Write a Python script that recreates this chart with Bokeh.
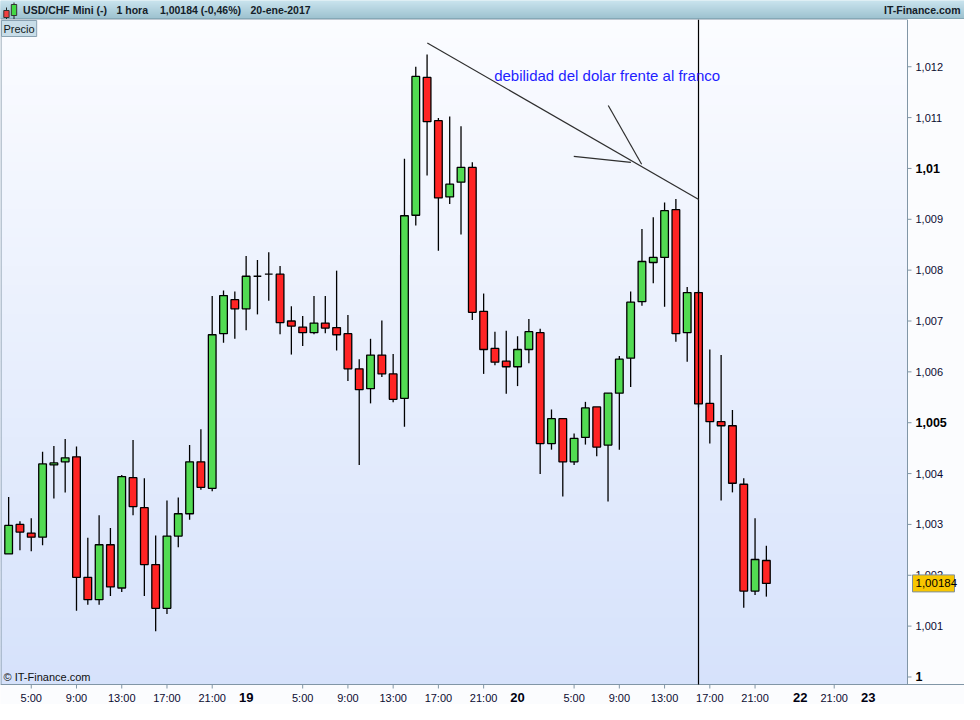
import numpy as np
from bokeh.plotting import figure
from bokeh.models import Range1d, Label, ColumnDataSource
from bokeh.layouts import column
from bokeh.embed import file_html
from bokeh.resources import INLINE
from bokeh.core.properties import value

FONT = "Liberation Sans"

# ---------------- data (hourly candles, USD/CHF) ----------------
opens = [
    1.00242, 1.00300, 1.00283, 1.00275, 1.00417, 1.00423, 1.00433, 1.00196, 1.00152, 1.00260,
    1.00175, 1.00392, 1.00333, 1.00221, 1.00135, 1.00277, 1.00321, 1.00423, 1.00371, 1.00675,
    1.00742, 1.00724, 1.00788, 1.00792, 1.00792, 1.00700, 1.00688, 1.00677, 1.00696, 1.00687,
    1.00675, 1.00606, 1.00567, 1.00633, 1.00596, 1.00548, 1.00908, 1.01179, 1.01094, 1.00944,
    1.00973, 1.01002, 1.00719, 1.00646, 1.00621, 1.00610, 1.00644, 1.00677, 1.00459, 1.00508,
    1.00423, 1.00471, 1.00531, 1.00456, 1.00558, 1.00627, 1.00738, 1.00815, 1.00825, 1.00919,
    1.00677, 1.00756, 1.00538, 1.00502, 1.00494, 1.00379, 1.00169, 1.00229]
highs = [
    1.00354, 1.00306, 1.00312, 1.00443, 1.00454, 1.00468, 1.00453, 1.00274, 1.00318, 1.00293,
    1.00397, 1.00466, 1.00391, 1.00278, 1.00347, 1.00353, 1.00456, 1.00487, 1.00749, 1.00760,
    1.00758, 1.00828, 1.00820, 1.00835, 1.00808, 1.00729, 1.00710, 1.00749, 1.00749, 1.00799,
    1.00712, 1.00625, 1.00665, 1.00701, 1.00635, 1.01019, 1.01200, 1.01224, 1.01099, 1.01102,
    1.01083, 1.01012, 1.00754, 1.00679, 1.00681, 1.00670, 1.00704, 1.00685, 1.00526, 1.00508,
    1.00479, 1.00541, 1.00531, 1.00558, 1.00631, 1.00758, 1.00881, 1.00904, 1.00933, 1.00940,
    1.00767, 1.00760, 1.00644, 1.00633, 1.00525, 1.00391, 1.00312, 1.00258]
lows = [
    1.00242, 1.00249, 1.00247, 1.00259, 1.00351, 1.00363, 1.00130, 1.00142, 1.00142, 1.00159,
    1.00167, 1.00318, 1.00159, 1.00090, 1.00124, 1.00255, 1.00309, 1.00368, 1.00365, 1.00657,
    1.00665, 1.00682, 1.00713, 1.00740, 1.00674, 1.00634, 1.00651, 1.00674, 1.00676, 1.00642,
    1.00582, 1.00417, 1.00538, 1.00590, 1.00540, 1.00492, 1.00888, 1.00986, 1.00838, 1.00930,
    1.00870, 1.00702, 1.00596, 1.00613, 1.00557, 1.00572, 1.00617, 1.00399, 1.00447, 1.00355,
    1.00417, 1.00457, 1.00434, 1.00345, 1.00447, 1.00570, 1.00730, 1.00774, 1.00728, 1.00659,
    1.00620, 1.00530, 1.00459, 1.00347, 1.00363, 1.00136, 1.00161, 1.00158]
closes = [
    1.00298, 1.00285, 1.00275, 1.00419, 1.00421, 1.00431, 1.00196, 1.00152, 1.00260, 1.00177,
    1.00394, 1.00335, 1.00221, 1.00135, 1.00277, 1.00321, 1.00423, 1.00373, 1.00673, 1.00750,
    1.00724, 1.00788, 1.00788, 1.00792, 1.00697, 1.00690, 1.00677, 1.00696, 1.00686, 1.00673,
    1.00606, 1.00565, 1.00633, 1.00596, 1.00546, 1.00907, 1.01181, 1.01092, 1.00942, 1.00969,
    1.01002, 1.00717, 1.00644, 1.00619, 1.00610, 1.00644, 1.00679, 1.00459, 1.00508, 1.00423,
    1.00469, 1.00529, 1.00452, 1.00558, 1.00625, 1.00737, 1.00817, 1.00825, 1.00917, 1.00675,
    1.00756, 1.00537, 1.00502, 1.00494, 1.00381, 1.00169, 1.00231, 1.00184]

# time axis (slot index = hour since 18-ene 3:00)
hour_ticks = [2, 6, 10, 14, 18, 26, 30, 34, 38, 42, 50, 54, 58, 62, 66, 73]
hour_labels = ["5:00", "9:00", "13:00", "17:00", "21:00",
               "5:00", "9:00", "13:00", "17:00", "21:00",
               "5:00", "9:00", "13:00", "17:00", "21:00", "21:00"]
day_ticks = [21, 45, 70, 76]
day_labels = ["19", "20", "22", "23"]

# price axis
price_ticks = [1.000, 1.001, 1.002, 1.003, 1.004, 1.005, 1.006,
               1.007, 1.008, 1.009, 1.010, 1.011, 1.012]
price_labels = ["1", "1,001", "1,002", "1,003", "1,004", "1,005", "1,006",
                "1,007", "1,008", "1,009", "1,01", "1,011", "1,012"]
bold_prices = [1.000, 1.005, 1.010]

last_price = 1.00184
last_price_text = "1,00184"
marker_slot = 61

# hand-drawn annotation (trend line + arrow strokes)
annot_x0 = [37.02, 49.97, 53.02]
annot_y0 = [1.012467, 1.010237, 1.011237]
annot_x1 = [61.02, 55.02, 55.97]
annot_y1 = [1.009390, 1.010121, 1.010083]
note_text = "debilidad del dolar frente al franco"
note_x, note_y = 42.93, 1.011833

header_parts = ["USD/CHF Mini (-)", "1 hora", "1,00184 (-0,46%)", "20-ene-2017"]
brand = "IT-Finance.com"

# ---------------- layout ----------------
W = 964
HDR_H = 19
MAIN_H = 685
FW, FH = 907, 665          # price panel inside the main figure
X0, X1 = -0.72, 79.48      # visible slot range of the price panel
Y0, Y1 = 0.999852, 1.012929
dx = (X1 - X0) / FW        # data units per pixel
dy = (Y1 - Y0) / FH
XE = X0 + W * dx           # canvas right edge (includes price-scale strip)
YE = Y1 - MAIN_H * dy      # canvas bottom edge (includes time-scale strip)

AX_COL = "#8196a6"
LBL_COL = "#0b0b30"


def mix(c1, c2, t):
    return "#%02x%02x%02x" % tuple(int(round(a + (b - a) * t)) for a, b in zip(c1, c2))


# ---------------- header bar ----------------
hdr = figure(width=W, height=HDR_H, x_range=Range1d(0, W), y_range=Range1d(HDR_H, 0),
             toolbar_location=None, output_backend="svg", min_border=0,
             x_axis_location=None, y_axis_location=None)
hdr.grid.visible = False
hdr.outline_line_color = None
rows = np.arange(HDR_H)
hcols = [mix((202, 228, 238), (156, 193, 207), r / (HDR_H - 1)) for r in rows]
hdr.quad(left=0, right=W, top=rows, bottom=rows + 1, fill_color=hcols, line_color=hcols)
hdr.segment(x0=[0], y0=[HDR_H - 0.5], x1=[W], y1=[HDR_H - 0.5], line_color="#6f8e9c", line_width=1)
hdr.segment(x0=[6, 13.5], y0=[7, 2], x1=[6, 13.5], y1=[18.5, 18.5], line_color="#222222", line_width=1)
hdr.quad(left=[3.3, 10.8], right=[8.6, 16.2], top=[10, 4], bottom=[17, 15],
         fill_color=["#f04040", "#44d844"], line_color="#333333", line_width=1)
hdr.text(x=[22.6, 116, 159.4, 250], y=[9.8] * 4, text=header_parts,
         text_font=value(FONT), text_font_style="bold", text_font_size="10.5px",
         text_baseline="middle", text_color="#142028")
hdr.text(x=[960], y=[9.8], text=[brand], text_font=value(FONT), text_font_style="bold",
         text_font_size="10.5px", text_baseline="middle", text_align="right", text_color="#142028")

# ---------------- main chart ----------------
p = figure(width=W, height=MAIN_H, x_range=Range1d(X0, XE), y_range=Range1d(YE, Y1),
           toolbar_location=None, output_backend="svg", min_border=0,
           x_axis_location=None, y_axis_location=None)
p.grid.visible = False
p.outline_line_color = None
p.background_fill_color = "#fbfcfe"
p.border_fill_color = "#fbfcfe"

# gradient background of the price panel
N = 70
ys = np.linspace(Y1, Y0, N + 1)
bcols = [mix((251, 252, 255), (214, 226, 251), i / (N - 1)) for i in range(N)]
p.quad(left=X0, right=X1, top=ys[:-1], bottom=ys[1:], fill_color=bcols, line_color=bcols,
       line_width=1, level="underlay")

# panel frame (also the axis lines)
p.segment(x0=[X0 + 0.5 * dx, X1, X0, X0], y0=[Y0, Y0, Y0, Y1],
          x1=[X0 + 0.5 * dx, X1, XE, X1], y1=[Y1, Y1, Y0, Y1],
          line_color=AX_COL, line_width=1)

# price scale: ticks + labels
p.segment(x0=[X1] * len(price_ticks), y0=price_ticks, x1=[X1 + 4 * dx] * len(price_ticks),
          y1=price_ticks, line_color=AX_COL, line_width=1)
norm_v = [v for v in price_ticks if v not in bold_prices]
norm_l = [l for v, l in zip(price_ticks, price_labels) if v not in bold_prices]
bold_v = [v for v in price_ticks if v in bold_prices]
bold_l = [l for v, l in zip(price_ticks, price_labels) if v in bold_prices]
p.text(x=[X1 + 8 * dx] * len(norm_v), y=norm_v, text=norm_l, text_font=value(FONT),
       text_font_size="11px", text_color=LBL_COL, text_baseline="middle")
p.text(x=[X1 + 8 * dx] * len(bold_v), y=bold_v, text=bold_l, text_font=value(FONT),
       text_font_size="12.5px", text_font_style="bold", text_color="#000000", text_baseline="middle")

# time scale: ticks + labels
p.segment(x0=hour_ticks, y0=[Y0] * len(hour_ticks), x1=hour_ticks,
          y1=[Y0 - 4 * dy] * len(hour_ticks), line_color=AX_COL, line_width=1)
p.text(x=hour_ticks, y=[Y0 - 13 * dy] * len(hour_ticks), text=hour_labels, text_font=value(FONT),
       text_font_size="11px", text_color=LBL_COL, text_align="center", text_baseline="middle")
p.text(x=day_ticks, y=[Y0 - 12.5 * dy] * len(day_ticks), text=day_labels, text_font=value(FONT),
       text_font_size="13px", text_font_style="bold", text_color="#000010",
       text_align="center", text_baseline="middle")

# candles
slots = np.arange(len(opens))
tops = [max(o, c) for o, c in zip(opens, closes)]
bots = [min(o, c) for o, c in zip(opens, closes)]
cols = ["#52db52" if c > o else ("#ff2424" if c < o else "#000000") for o, c in zip(opens, closes)]
src = ColumnDataSource(dict(x=slots, h=highs, l=lows, top=tops, bottom=bots, color=cols))
p.segment(x0="x", y0="h", x1="x", y1="l", source=src, line_color="black", line_width=1.3)
p.vbar(x="x", width=0.68, top="top", bottom="bottom", fill_color="color",
       line_color="black", line_width=1.3, source=src)

# vertical marker line
p.segment(x0=[marker_slot], y0=[Y0], x1=[marker_slot], y1=[Y1], line_color="black", line_width=1.2)

# annotation lines and note
p.segment(x0=annot_x0, y0=annot_y0, x1=annot_x1, y1=annot_y1, line_color="#2e2e2e", line_width=1.2)
p.add_layout(Label(x=note_x, y=note_y, text=note_text, text_font=FONT, text_font_size="15px",
                   text_color="#1e1eff", text_baseline="middle"))

# last price tag
p.quad(left=[X1 + 5 * dx], right=[X1 + 47 * dx], bottom=[last_price - 8.5 * dy],
       top=[last_price + 8.5 * dy], fill_color="#f8c600", line_color="#7f8f9c", line_width=1)
p.text(x=[X1 + 8 * dx], y=[last_price], text=[last_price_text], text_font=value(FONT),
       text_font_size="11.5px", text_color="#000000", text_baseline="middle")

# "Precio" tab and copyright
p.add_layout(Label(x=X0, y=Y1, x_offset=1, y_offset=-1, text="Precio", text_font=FONT,
                   text_font_size="11px", text_color="#101820", text_baseline="top",
                   background_fill_color="#c8dde8", border_line_color="#8aa2b2", padding=2))
p.add_layout(Label(x=X0, y=Y0, x_offset=3, y_offset=2, text="© IT-Finance.com", text_font=FONT,
                   text_font_size="11px", text_color="#101010", text_baseline="bottom"))

layout = column(hdr, p, spacing=0)
open("out.html", "w").write(file_html(layout, INLINE))
